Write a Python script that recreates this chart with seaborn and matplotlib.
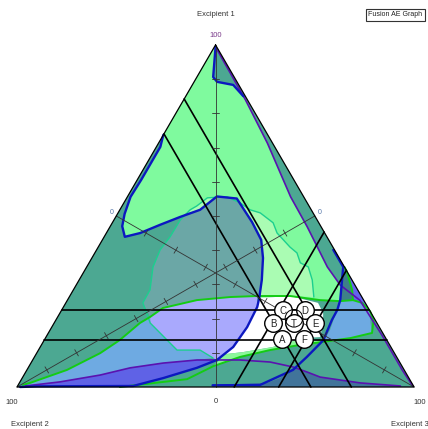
import numpy as np
import matplotlib
matplotlib.use("Agg")
import matplotlib.pyplot as plt
import seaborn as sns

# all points are compositions in %: (Excipient 1, Excipient 3), Excipient 2 = rest
green_zone = [(100, 0), (73.7, 0), (70.2, 1), (65.8, 1), (60.5, 1), (55.6, 0.8), (50.6, 1.8), (47, 3),
              (43.9, 5.2), (45, 8.5), (47.4, 12.3), (49.7, 16.2), (51.8, 20.2), (55.7, 22.5), (55.1, 27.8),
              (48.2, 35.1), (43, 40), (37.7, 43.1), (31.3, 46), (26, 48), (26.6, 55.5), (25.4, 63.6),
              (25.1, 68.8), (25.7, 71), (29.8, 66.5), (35.1, 60.6), (40.9, 55.2), (46.8, 49.7),
              (55.6, 41.1), (71.3, 27.4), (85, 14.5), (88.3, 10.3), (89.2, 5.8), (90.6, 4.1), (98.5, 0.9)]
pale_zone = [(50.6, 17.0), (52.9, 18.8), (55.3, 20.3), (55.6, 25.1), (53.8, 29.3), (51.8, 32.8), (50.9, 35.8),
             (48, 40.5), (45, 43), (40.9, 48.3), (39.2, 50.9), (36.3, 53.2), (35.1, 55.8), (31.3, 58.7),
             (26.3, 61.6), (26.6, 55.5), (26, 48), (31.3, 46), (37.7, 43.1), (43, 40), (48.2, 35.1),
             (55.1, 27.8), (55.7, 22.5), (51.8, 20.2)]
grey_zone = [(50.6, 17.0), (51.8, 20.2), (55.7, 22.5), (55.1, 27.8), (48.2, 35.1), (43, 40), (37.7, 43.1),
             (31.3, 46), (26, 48), (26.3, 40.5), (25.4, 32.6), (23.1, 25.2), (20.5, 23.3), (24.6, 19.4),
             (28.4, 19.3), (35.1, 16.7), (40.1, 16), (43.9, 16.6), (48.8, 16.7)]
skyblue_zone = [(0.5, 1.2), (1.2, 2.7), (5, 10.1), (9.9, 16), (13.7, 19), (18.7, 21.6), (20.5, 23.3),
                (18.7, 24.2), (10.8, 34.9), (10.8, 40.7), (8.5, 45.1), (7.9, 41.4), (7, 33.3), (5.6, 25.7),
                (3.5, 19.2), (1.5, 10.1), (0.3, 1.9)]
lavender_zone = [(20.5, 23.3), (23.1, 25.2), (25.4, 32.6), (26.3, 40.5), (26.6, 47.2), (23.4, 48.8),
                 (17.5, 49.2), (11.7, 48.6), (7.9, 46.4), (8.5, 45.1), (10.8, 40.7), (10.8, 34.9), (18.7, 24.2)]
band_zone = [(0.3, 1.9), (1.5, 10.1), (3.5, 19.2), (5.6, 25.7), (7, 33.3), (7.9, 41.4), (7.9, 46.4),
             (5.6, 42.5), (2.6, 35.5), (0.3, 29.1), (0, 0.8)]
white_zone = [(26, 48), (23.4, 48.8), (17.5, 49.2), (11.7, 48.6), (9.6, 47.6), (10.2, 51.8), (11.7, 58.6),
              (14.3, 64.9), (14.6, 69), (18.1, 68), (21.6, 66.3), (24.6, 63.5), (26.6, 55.5)]
lime_patch = [(9.6, 47.6), (10.2, 51.8), (11.7, 58.6), (14.3, 64.9), (13.2, 70.5), (12.3, 65.1),
              (10.8, 58.3), (8.8, 51.8), (6.1, 46.4)]
skyblue_right = [(25.1, 68.8), (25.4, 71.7), (24.6, 74.6), (21.9, 78), (19, 79.5), (15.8, 81.5), (14.3, 76.8),
                 (13.2, 70.5), (16.7, 70.5), (21.1, 69.6), (24, 68.9)]
violet_zone = [(36.5, 63.5), (22.2, 77.8), (24.6, 74.6), (25.4, 71.9), (28.4, 70.2), (33.6, 66.3)]
sliver_zone = [(35.1, 64.9), (31.3, 66.2), (25.4, 68.7), (25.4, 71.9), (28.4, 70.2), (33.6, 66.3)]
slate_zone = [(0, 49), (0.6, 49.1), (1.2, 62.4), (2.6, 64.9), (5.6, 66.7), (4.4, 70.8), (2.9, 74.9),
              (1.2, 85.8), (0.3, 96.4), (0, 100)]

blue_top = [(99.4, 0.3), (90.6, 4.1), (89.2, 5.8), (88.3, 10.3), (85, 14.5)]
blue_main = [(73.7, 0), (70.2, 1), (65.8, 1), (60.5, 1), (55.6, 0.8), (50.6, 1.8), (47, 3), (43.9, 5.2),
             (45, 8.5), (47.4, 12.3), (49.7, 16.2), (51.8, 20.2), (55.7, 22.5), (55.1, 27.8), (48.2, 35.1),
             (43, 40), (37.7, 43.1), (31.3, 46), (26, 48), (23.4, 48.8), (17.5, 49.2), (11.7, 48.6),
             (7.9, 46.4), (5.6, 42.5), (2.6, 35.5), (0.3, 29.1), (0.2, 5), (0, 0.8)]
blue_right = [(40.1, 59.6), (35.1, 64.6), (31.3, 66.2), (25.4, 68.7), (22.5, 69.4), (19.6, 69.5),
              (13.7, 70.3), (8.8, 68.6), (5, 67), (0.6, 60.9), (0.5, 49)]
purple_right = [(99.2, 0.5), (83.9, 15.6), (71.3, 27.4), (55.6, 41.1), (46.8, 49.7), (40.9, 55.2),
                (35.1, 60.6), (29.8, 66.5), (25.4, 73.6), (15, 84.5), (5, 94.5), (0.3, 99.5)]
purple_low = [(0.3, 1.9), (1.5, 10.1), (3.5, 19.2), (5.6, 25.7), (7, 33.3), (7.9, 41.4), (7.9, 46.4),
              (7.9, 52.2), (7.3, 60.1), (5.85, 66.6), (4.4, 70.8), (2.9, 74.9), (1.2, 85.8), (0.3, 96.4)]
green_upper = [(0.6, 1.2), (1.2, 2.7), (5, 10.1), (9.9, 16), (13.7, 19), (18.7, 21.6), (20.5, 23.3),
               (23.1, 25.2), (25.4, 32.6), (26.3, 40.5), (26.6, 47.2), (26.6, 55.5), (25.4, 63.6),
               (25.1, 68.8), (25.4, 71.9), (28.4, 70.2), (33.6, 66.3), (35.1, 64.9)]
green_lower = [(0, 25.9), (2.3, 41.7), (6.1, 46.4), (8.8, 51.8), (10.8, 58.3), (12.3, 65.1), (13.2, 70.5),
               (14.3, 76.8), (15.8, 81.5), (19.6, 80), (22.2, 77.8), (24.6, 74.6), (25.4, 71.9)]
cyan_line = [(26.3, 61.6), (31.3, 58.7), (35.1, 55.8), (36.3, 53.2), (39.2, 50.9), (40.9, 48.3), (45, 43),
             (48, 40.5), (50.9, 35.8), (51.8, 32.8), (53.8, 29.3), (55.6, 25.1), (55.3, 20.3), (52.9, 18.8),
             (51.8, 17.7), (48.8, 16.7), (43.9, 16.6), (40.1, 16), (35.1, 16.7), (28.4, 19.3), (24.6, 19.4),
             (18.7, 24.2), (10.8, 34.9), (10.8, 40.7), (8.5, 45.1)]

# constraint lines
exc1_limits = [22.5, 13.7]
exc2_limits = [15.8, 26.0]
exc3_limits = [54.7, 65.9]

# design points
pt_labels = ["C", "D", "B", "T", "E", "A", "F"]
pt_exc1 = [22.5, 22.5, 18.7, 18.7, 18.7, 13.9, 13.9]
pt_exc3 = [55.75, 61.3, 55.15, 60.4, 65.7, 59.85, 65.35]

H = np.sqrt(3) / 2


def to_xy(pts):
    a = np.array([p[0] for p in pts], float)
    c = np.array([p[1] for p in pts], float)
    return c + a / 2, a * H


sns.set_style("white")
plt.rcParams['font.family'] = ['Liberation Sans', 'DejaVu Sans']

fig = plt.figure(figsize=(4.28, 4.29), dpi=100)
ax = fig.add_axes([0, 0, 1, 1])
ax.set_xlim(-4.28, 103.5)
ax.set_ylim(-10.63, 97.97)
ax.axis("off")

tri = [(100, 0), (0, 0), (0, 100)]

def fill(pts, color):
    x, y = to_xy(pts)
    ax.fill(x, y, color=color, lw=0, zorder=1)

fill(tri, "#4ca892")
fill(green_zone, "#7ffa9e")
fill(pale_zone, "#aafcb3")
fill(grey_zone, "#6ba7a6")
fill(skyblue_zone, "#6eaae2")
fill(lavender_zone, "#a9a9fd")
fill(band_zone, "#5f62e6")
fill(white_zone, "#ffffff")
fill(lime_patch, "#8cf79a")
fill(skyblue_right, "#6eaae2")
fill(violet_zone, "#6464ee")
fill(sliver_zone, "#3e8088")
fill(slate_zone, "#41749a")


def line(pts, color, lw, z=2):
    x, y = to_xy(pts)
    sns.lineplot(x=x, y=y, sort=False, estimator=None, color=color, linewidth=lw, ax=ax, zorder=z)

line(cyan_line, "#1ccf8f", 1.0)
line(green_upper, "#14cc14", 1.4)
line(green_lower, "#14cc14", 1.4)
line(purple_right, "#5a12b0", 1.2)
line(purple_low, "#5a12b0", 1.2)
line(blue_top, "#0c18c0", 1.7)
line(blue_main, "#0c18c0", 1.7)
line(blue_right, "#0c18c0", 1.7)

# constraint lines
for a in exc1_limits:
    line([(a, 0), (a, 100 - a)], "black", 1.2, 3)
for b in exc2_limits:
    line([(100 - b, 0), (0, 100 - b)], "black", 1.2, 3)
for c in exc3_limits:
    line([(0, c), (100 - c, c)], "black", 1.2, 3)

# medians with ticks
medians = [[(100, 0), (0, 50)], [(0, 0), (50, 50)], [(0, 100), (50, 0)]]
for m in medians:
    line(m, "#333333", 0.6, 3)
    x, y = to_xy(m)
    d = np.array([x[1] - x[0], y[1] - y[0]])
    d = d / np.hypot(*d)
    nrm = np.array([-d[1], d[0]]) * 0.9
    for t in np.linspace(0.1, 0.9, 9):
        px, py = x[0] + t * (x[1] - x[0]), y[0] + t * (y[1] - y[0])
        ax.plot([px - nrm[0], px + nrm[0]], [py - nrm[1], py + nrm[1]], color="#333333", lw=0.6, zorder=3)

# triangle border
bx, by = to_xy(tri + [tri[0]])
ax.plot(bx, by, color="black", lw=0.9, zorder=4)

# design points
px_, py_ = to_xy(list(zip(pt_exc1, pt_exc3)))
sns.scatterplot(x=px_, y=py_, s=160, color="white", edgecolor="black", linewidth=1.0, ax=ax, zorder=5)
ax.scatter([px_[3]], [py_[3] + 1.2], s=160, facecolor="none", edgecolor="black", linewidth=0.7, zorder=5)
for x, y, lab in zip(px_, py_, pt_labels):
    ax.text(x, y - 0.2, lab, ha="center", va="center", fontsize=7, color="#222222", zorder=6)

# text
ax.text(50, 94.4, "Excipient 1", ha="center", va="center", fontsize=5.5, color="#333333")
ax.text(3.3, -9.6, "Excipient 2", ha="center", va="center", fontsize=5.5, color="#333333")
ax.text(94.2, -9.6, "Excipient 3", ha="left", va="center", fontsize=5.5, color="#333333")
ax.text(50, 89.1, "100", ha="center", va="center", fontsize=5.5, color="#7a3a8a")
ax.text(-1.3, -3.8, "100", ha="center", va="center", fontsize=5.5, color="#333333")
ax.text(101.5, -3.8, "100", ha="center", va="center", fontsize=5.5, color="#333333")
ax.text(50, -3.6, "0", ha="center", va="center", fontsize=5.5, color="#333333")
ax.text(23.9, 44.3, "0", ha="center", va="center", fontsize=5, color="#5577aa")
ax.text(76.3, 44.3, "0", ha="center", va="center", fontsize=5, color="#5577aa")

fig.text(368 / 428, 1 - 15 / 429, "Fusion AE Graph", ha="left", va="center", fontsize=5, color="#222222",
         bbox=dict(boxstyle="square,pad=0.35", fc="white", ec="#333333", lw=0.8))

fig.savefig("out.png", dpi=100)
